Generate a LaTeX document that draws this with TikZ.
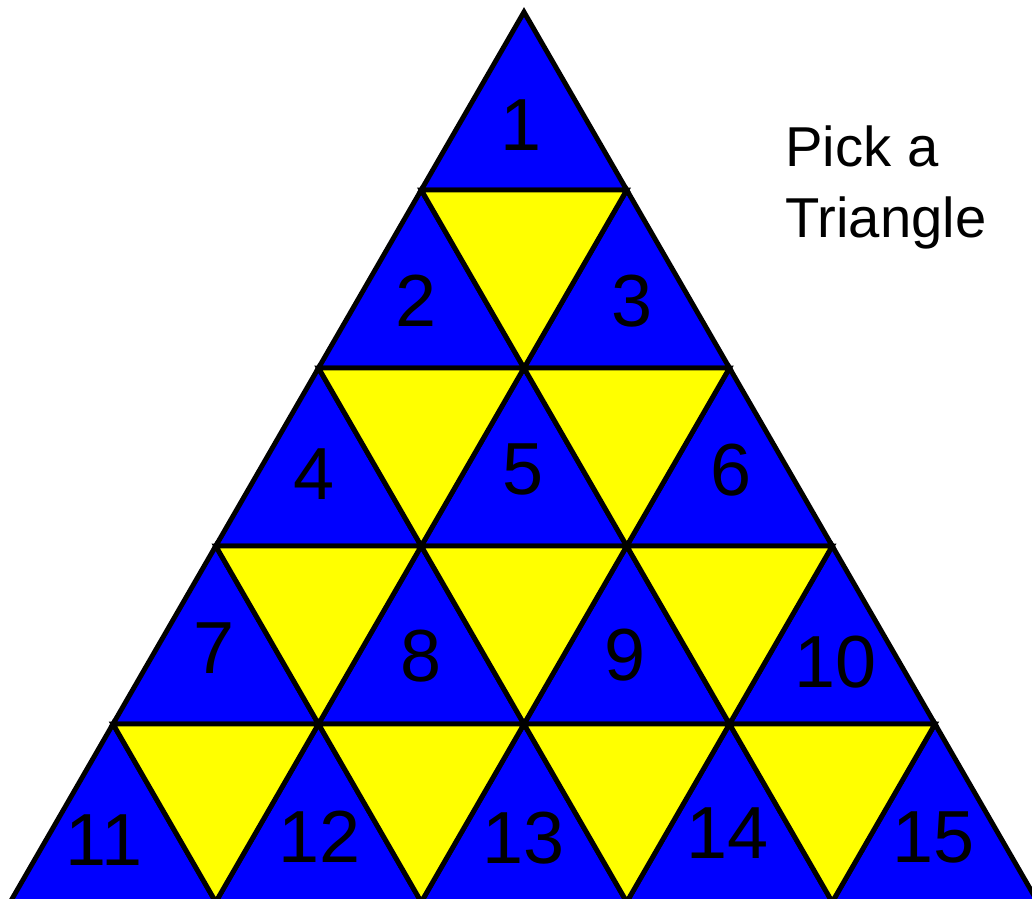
\documentclass[tikz,border=0pt]{standalone}
\usepackage{fontspec}
\setmainfont{Liberation Sans}
\definecolor{tileblue}{RGB}{0,0,255}
\definecolor{tileyellow}{RGB}{255,255,0}
\begin{document}
\begin{tikzpicture}[x=0.02cm, y=-0.02cm,
    upt/.style={fill=tileblue, draw=black, line width=2.8pt},
    dnt/.style={fill=tileyellow, draw=black, line width=2.8pt},
    num/.style={font=\fontsize{42}{50}\selectfont, inner sep=0pt},
    hint/.style={font=\fontsize{32}{40.4}\selectfont, align=left, inner sep=0pt}
]
\useasboundingbox (0,0) rectangle (1032,899);
\clip (0,0) rectangle (1032,899);
% blue triangles pointing up
\foreach \r in {0,...,4}{
  \foreach \k in {0,...,\r}{
    \pgfmathsetmacro{\cx}{524+(\k-\r/2)*205.5}
    \pgfmathsetmacro{\ty}{12+\r*178}
    \draw[upt] (\cx,\ty) -- ++(102.75,178) -- ++(-205.5,0) -- cycle;
  }
}
% yellow triangles pointing down
\foreach \r in {1,...,4}{
  \pgfmathtruncatemacro{\m}{\r-1}
  \foreach \k in {0,...,\m}{
    \pgfmathsetmacro{\cx}{524+(\k-\r/2)*205.5}
    \pgfmathsetmacro{\ty}{12+\r*178}
    \draw[dnt] (\cx,\ty) -- ++(205.5,0) -- ++(-102.75,178) -- cycle;
  }
}
\node[num] (n1) at (521,125) {1};
\node[num] (n2) at (416,301) {2};
\node[num] (n3) at (632,301) {3};
\node[num] (n4) at (314,474) {4};
\node[num] (n5) at (523,469) {5};
\node[num] (n6) at (731,470) {6};
\node[num] (n7) at (214,648) {7};
\node[num] (n8) at (421,656) {8};
\node[num] (n9) at (625,655) {9};
\node[num] (n10) at (836,662) {10};
\node[num] (n11) at (104,840) {11};
\node[num] (n12) at (320,837) {12};
\node[num] (n13) at (524,838) {13};
\node[num] (n14) at (728,833) {14};
\node[num] (n15) at (934,837) {15};
\node[hint, anchor=north west] (pick) at (785,125) {Pick a\\Triangle};
\end{tikzpicture}
\end{document}
